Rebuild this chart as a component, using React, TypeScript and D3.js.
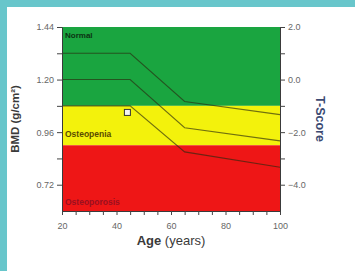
import { useEffect, useMemo, useRef } from "react";
import * as d3 from "d3";

const width = 355;
const height = 271;
const margin = { top: 27, right: 75, bottom: 60, left: 62 };

// reference curves (age vs BMD g/cm2)
const ages = [20, 45, 65, 100];
const upperCurve = [1.32, 1.32, 1.1, 1.04];
const middleCurve = [1.2, 1.2, 0.98, 0.92];
const lowerCurve = [1.08, 1.08, 0.87, 0.8];

// patient measurement
const patientAge = [44];
const patientBmd = [1.05];

// diagnostic bands (BMD limits)
const bandNames = ["Normal", "Osteopenia", "Osteoporosis"];
const bandLimits = [1.44, 1.08, 0.9, 0.6];
const bandColors = ["#1aa540", "#f3f20c", "#ee1616"];
const bandTextColors = ["#0b3312", "#5a4a00", "#9a1020"];

const bmdTicks = [1.44, 1.2, 0.96, 0.72];
const tTicks = [2, 0, -2, -4];
const ageTicks = [20, 40, 60, 80, 100];

const font = "'Liberation Sans', Arial, sans-serif";

const App = () => {
  const xAxisRef = useRef(null);
  const yAxisRef = useRef(null);
  const tAxisRef = useRef(null);

  const { xScale, yScale, tScale } = useMemo(() => {
    const xScale = d3
      .scaleLinear()
      .domain([20, 100])
      .range([margin.left, width - margin.right]);
    const yScale = d3
      .scaleLinear()
      .domain([0.6, 1.44])
      .range([height - margin.bottom, margin.top]);
    const tScale = d3
      .scaleLinear()
      .domain([-5, 2])
      .range([height - margin.bottom, margin.top]);
    return { xScale, yScale, tScale };
  }, []);

  const x0 = xScale(20);
  const x1 = xScale(100);
  const yBottom = yScale(0.6);

  const line = d3
    .line<number>()
    .x((_, i) => xScale(ages[i]))
    .y((d) => yScale(d));

  useEffect(() => {
    const style = (sel: any) => {
      sel.select(".domain").attr("stroke", "#3a3a3a");
      sel.selectAll(".tick line").attr("stroke", "#444");
      sel
        .selectAll(".tick text")
        .attr("fill", "#666")
        .attr("font-size", 9)
        .attr("font-family", font);
    };
    if (xAxisRef.current) {
      const minor = d3.range(20, 101, 5);
      const g = d3.select<SVGGElement, unknown>(xAxisRef.current);
      g.call(
        d3
          .axisBottom(xScale)
          .tickValues(minor)
          .tickSize(4)
          .tickSizeOuter(0)
          .tickFormat((d) => (ageTicks.includes(+d) ? String(d) : ""))
      );
      style(g);
      g.selectAll(".tick text").attr("dy", "1.25em");
    }
    if (yAxisRef.current) {
      const g = d3.select<SVGGElement, unknown>(yAxisRef.current);
      g.call(
        d3
          .axisLeft(yScale)
          .tickValues([1.44, 1.32, 1.2, 1.08, 0.96, 0.84, 0.72])
          .tickSize(5)
          .tickSizeOuter(0)
          .tickFormat((d) => (bmdTicks.includes(+d) ? d3.format(".2f")(+d) : ""))
      );
      style(g);
    }
    if (tAxisRef.current) {
      const g = d3.select<SVGGElement, unknown>(tAxisRef.current);
      g.call(
        d3
          .axisRight(tScale)
          .tickValues([2, 1, 0, -1, -2, -3, -4])
          .tickSize(5)
          .tickSizeOuter(0)
          .tickFormat((d) => (tTicks.includes(+d) ? d3.format(".1f")(+d) : ""))
      );
      style(g);
    }
  }, [xScale, yScale, tScale]);

  return (
    <svg
      width={width}
      height={height}
      style={{ position: "absolute", left: 0, top: 0, background: "#ffffff" }}
    >
      <rect x={0} y={0} width={width} height={7} fill="#68c6cb" />
      <rect x={0} y={0} width={7} height={height} fill="#68c6cb" />

      {bandNames.map((name, i) => (
        <rect
          key={name}
          x={x0}
          y={yScale(bandLimits[i])}
          width={x1 - x0}
          height={yScale(bandLimits[i + 1]) - yScale(bandLimits[i])}
          fill={bandColors[i]}
        />
      ))}
      <text x={x0 + 3} y={yScale(bandLimits[0]) + 11} fill={bandTextColors[0]} fontSize={8} fontWeight="bold" fontFamily={font}>
        {bandNames[0]}
      </text>
      <text x={x0 + 3} y={yScale(0.96) + 5} fill={bandTextColors[1]} fontSize={8.5} fontWeight="bold" fontFamily={font}>
        {bandNames[1]}
      </text>
      <text x={x0 + 3} y={yBottom - 6} fill={bandTextColors[2]} fontSize={8.5} fontWeight="bold" fontFamily={font}>
        {bandNames[2]}
      </text>

      {[upperCurve, middleCurve, lowerCurve].map((c, i) => (
        <path
          key={i}
          d={line(c) ?? ""}
          fill="none"
          stroke="#2a2a10"
          strokeOpacity={0.65}
          strokeWidth={1.1}
        />
      ))}

      {patientAge.map((a, i) => (
        <rect
          key={i}
          x={xScale(a) - 3}
          y={yScale(patientBmd[i]) - 3}
          width={6}
          height={6}
          fill="#f4f4ee"
          stroke="#333"
          strokeWidth={1}
        />
      ))}

      <g ref={xAxisRef} transform={`translate(0, ${yBottom})`} />
      <g ref={yAxisRef} transform={`translate(${x0}, 0)`} />
      <g ref={tAxisRef} transform={`translate(${x1}, 0)`} />

      <text
        transform={`translate(19, ${(margin.top + yBottom) / 2}) rotate(-90)`}
        textAnchor="middle"
        fontSize={11.5}
        fontWeight="bold"
        fill="#3a3a3a"
        fontFamily={font}
      >
        BMD (g/cm²)
      </text>
      <text
        transform={`translate(316, ${(margin.top + yBottom) / 2}) rotate(90)`}
        textAnchor="middle"
        fontSize={12.5}
        fontWeight="bold"
        fill="#3b4a72"
        fontFamily={font}
      >
        T-Score
      </text>
      <text
        x={(x0 + x1) / 2}
        y={245}
        textAnchor="middle"
        fontSize={13}
        fill="#3a3a3a"
        fontFamily={font}
      >
        <tspan fontWeight="bold">Age</tspan> (years)
      </text>
    </svg>
  );
};

export default App;
